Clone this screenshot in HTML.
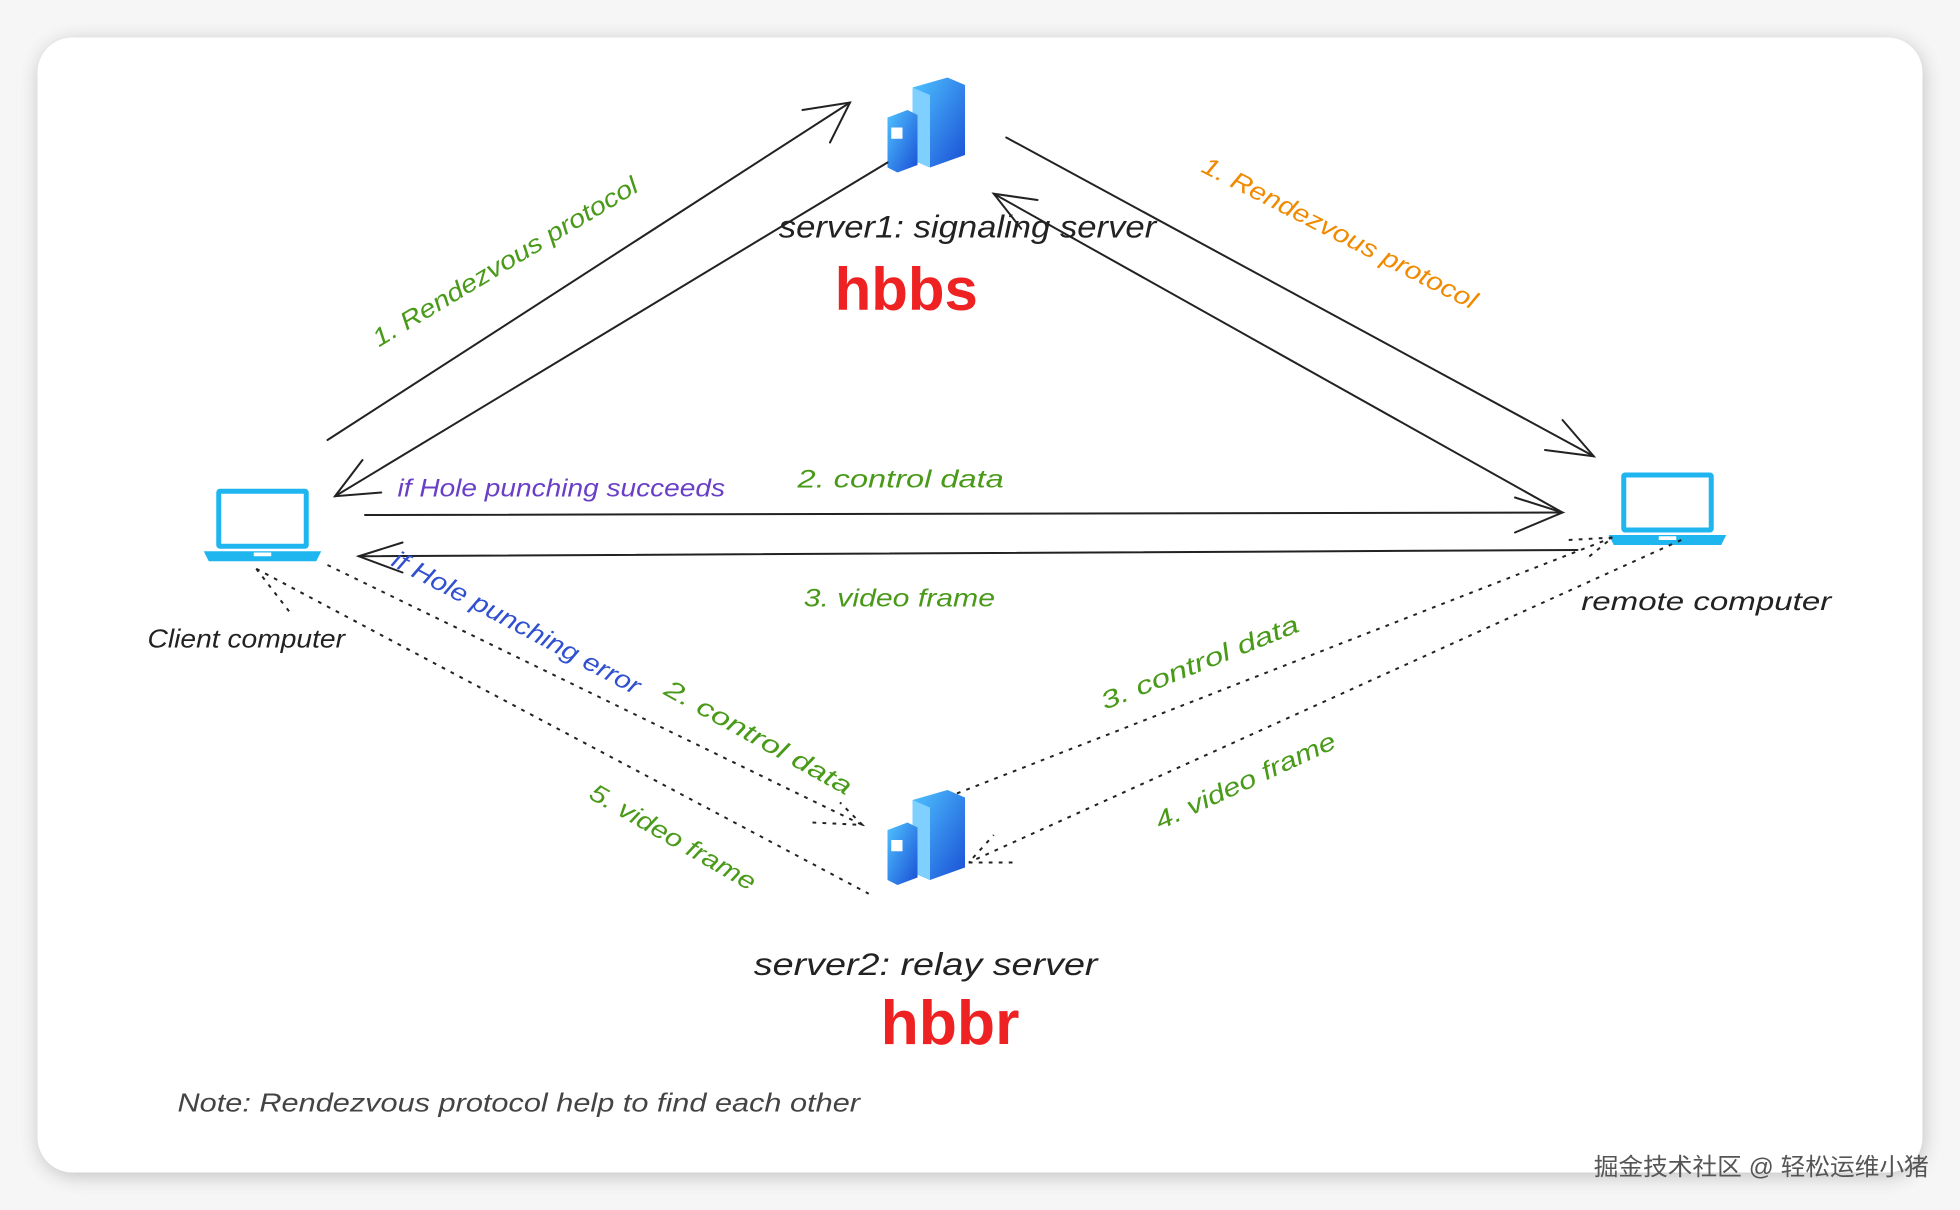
<!DOCTYPE html>
<html><head><meta charset="utf-8"><style>
html,body{margin:0;padding:0;background:#f4f4f4;}
svg{display:block}
text{font-family:"Liberation Sans","Noto Sans CJK SC",sans-serif;}
</style></head><body>
<svg width="1960" height="1210" viewBox="0 0 1568 968" xmlns="http://www.w3.org/2000/svg">
<defs>
<filter id="sh" x="-5%" y="-5%" width="110%" height="110%"><feGaussianBlur stdDeviation="8"/></filter>
<linearGradient id="sv" x1="0" y1="0" x2="1" y2="1"><stop offset="0" stop-color="#4fc3ff"/><stop offset="1" stop-color="#1a4fd6"/></linearGradient>
<g id="server">
<polygon points="20,8 48,0 62,6 62,62 34,72 20,66" fill="url(#sv)"/>
<polygon points="20,8 34,14 34,72 20,66" fill="#7fd0ff"/>
<polygon points="0,32 16,26 24,30 24,70 8,76 0,72" fill="url(#sv)"/>
<rect x="3" y="40" width="9" height="9" fill="#fff"/>
</g>
<g id="laptop">
<rect x="10" y="0" width="74" height="48" rx="3" fill="#1fb6f0"/>
<rect x="14" y="4" width="66" height="40" fill="#fff"/>
<path d="M0,50 H94 L90,58 H4 Z" fill="#1fb6f0"/>
<rect x="40" y="51" width="14" height="3" fill="#fff"/>
</g>
</defs>
<rect x="0" y="0" width="1568" height="968" fill="#f6f6f6"/>
<rect x="32" y="34" width="1506" height="906" rx="28" fill="#bbb" filter="url(#sh)"/>
<rect x="30" y="30" width="1508" height="908" rx="28" fill="#fff"/>

<use href="#server" x="710" y="62"/>
<use href="#server" x="710" y="632"/>
<use href="#laptop" x="163" y="391"/>
<use href="#laptop" x="1287" y="378"/>

<g stroke="#222" stroke-width="1.6" fill="none" stroke-linecap="round">
<line x1="262" y1="352" x2="680" y2="82"/><path d="M642,88 L680,82 L664,114"/>
<line x1="710" y1="130" x2="268" y2="397"/><path d="M290,368 L268,397 L305,394"/>
<line x1="805" y1="110" x2="1275" y2="365"/><path d="M1236,360 L1275,365 L1250,336"/>
<line x1="1250" y1="410" x2="795" y2="155"/><path d="M830,160 L795,155 L817,183"/>
<line x1="292" y1="412" x2="1250" y2="410"/><path d="M1212,398 L1250,410 L1212,426"/>
<line x1="1262" y1="440" x2="287" y2="445"/><path d="M322,434 L287,445 L322,458"/>
</g>
<g stroke="#222" stroke-width="1.6" fill="none" stroke-dasharray="3,5">
<line x1="205" y1="455" x2="232" y2="490"/>
<line x1="205" y1="455" x2="695" y2="715"/>
<line x1="262" y1="452" x2="690" y2="660"/>
<path d="M650,658 L690,660 L672,642"/>
<line x1="1290" y1="430" x2="765" y2="635"/>
<path d="M1255,432 L1290,430 L1268,448"/>
<line x1="1345" y1="432" x2="775" y2="690"/>
<path d="M810,690 L775,690 L795,668"/>
</g>

<g font-size="21" fill="#222" lengthAdjust="spacingAndGlyphs">
<text x="623" y="190" font-size="25" font-style="italic" textLength="302" lengthAdjust="spacingAndGlyphs">server1: signaling server</text>
<text x="603" y="780" font-size="25" font-style="italic" textLength="275" lengthAdjust="spacingAndGlyphs">server2: relay server</text>
<text x="118" y="518" font-style="italic" textLength="158" lengthAdjust="spacingAndGlyphs">Client computer</text>
<text x="1265" y="488" font-style="italic" textLength="200" lengthAdjust="spacingAndGlyphs">remote computer</text>
<text x="142" y="889" fill="#444" font-style="italic" textLength="546" lengthAdjust="spacingAndGlyphs">Note: Rendezvous protocol help  to find each other</text>
</g>
<text x="725" y="248" font-size="48" font-weight="bold" fill="#ee2222" text-anchor="middle">hbbs</text>
<text x="760" y="835" font-size="50" font-weight="bold" fill="#ee2222" text-anchor="middle">hbbr</text>

<g font-size="20" font-style="italic">
<text transform="translate(303,278) rotate(-31)" fill="#4a9a1a" textLength="244" lengthAdjust="spacingAndGlyphs">1. Rendezvous protocol</text>
<text transform="translate(960,137) rotate(27)" fill="#f08a00" textLength="244" lengthAdjust="spacingAndGlyphs">1. Rendezvous protocol</text>
<text x="318" y="397" fill="#6a3fc8" textLength="262" lengthAdjust="spacingAndGlyphs">if Hole punching succeeds</text>
<text x="638" y="390" fill="#4a9a1a" textLength="165" lengthAdjust="spacingAndGlyphs">2. control data</text>
<text x="643" y="485" fill="#4a9a1a" textLength="153" lengthAdjust="spacingAndGlyphs">3. video frame</text>
<text transform="translate(312,452) rotate(28)" fill="#3050d0" textLength="222" lengthAdjust="spacingAndGlyphs">if Hole punching error</text>
<text transform="translate(530,555) rotate(29)" fill="#4a9a1a" textLength="168" lengthAdjust="spacingAndGlyphs">2. control data</text>
<text transform="translate(470,638) rotate(30)" fill="#4a9a1a" textLength="150" lengthAdjust="spacingAndGlyphs">5. video frame</text>
<text transform="translate(884,568) rotate(-22)" fill="#4a9a1a" textLength="169" lengthAdjust="spacingAndGlyphs">3. control data</text>
<text transform="translate(928,664) rotate(-25)" fill="#4a9a1a" textLength="157" lengthAdjust="spacingAndGlyphs">4. video frame</text>
</g>
<text x="1275" y="940" font-size="19" fill="#555" textLength="268" lengthAdjust="spacingAndGlyphs">掘金技术社区 @ 轻松运维小猪</text>
</svg>
</body></html>
